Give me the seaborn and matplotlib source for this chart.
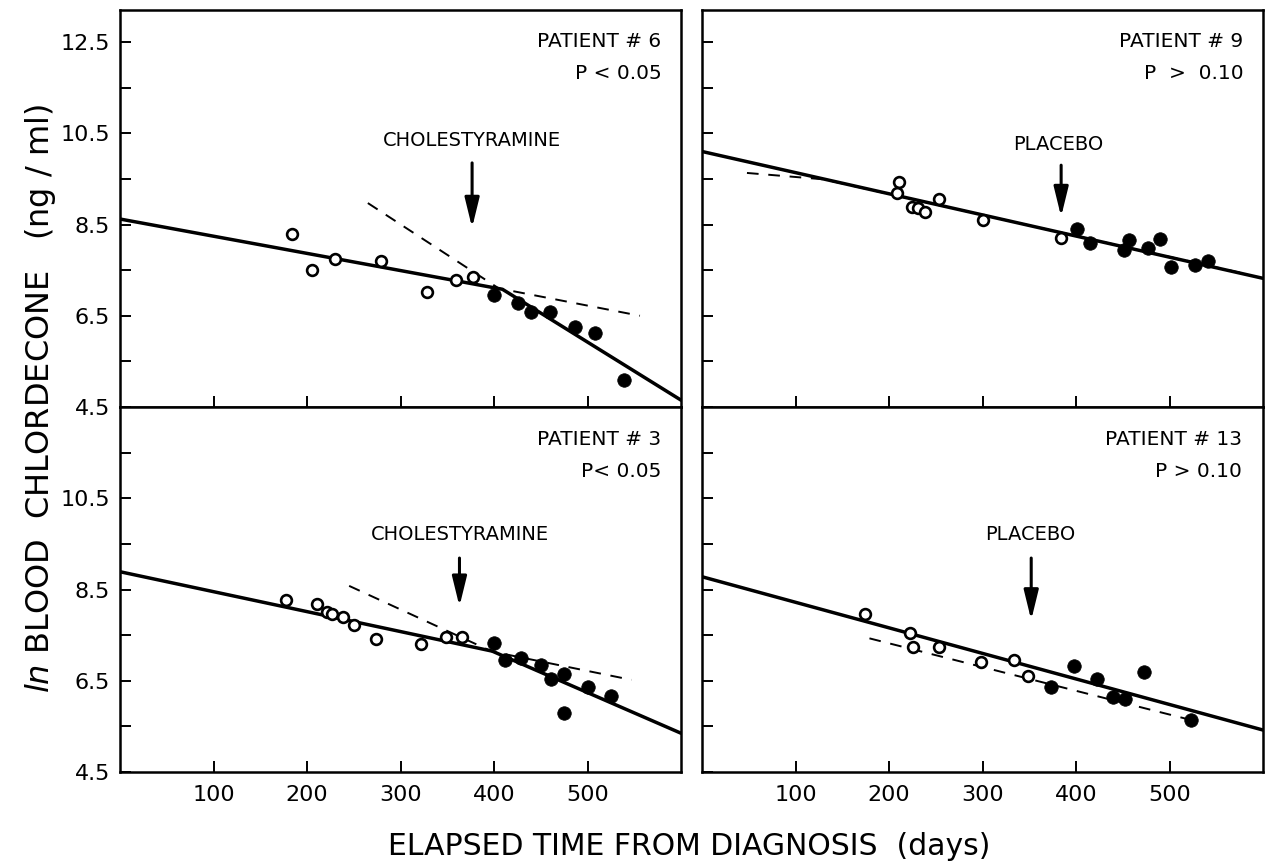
import matplotlib
matplotlib.use("Agg")
import matplotlib.pyplot as plt
import seaborn as sns

# patient 6 (cholestyramine)
p6_open_days = [184, 205, 230, 279, 328, 359, 377]
p6_open_level = [8.29, 7.50, 7.75, 7.69, 7.02, 7.28, 7.34]
p6_drug_days = [400, 426, 440, 460, 487, 508, 539]
p6_drug_level = [6.96, 6.77, 6.59, 6.58, 6.25, 6.13, 5.09]
p6_fit_days = [0, 409, 600]
p6_fit_level = [8.62, 7.08, 4.65]
p6_alt_days = [265, 405, 556]
p6_alt_level = [8.97, 7.10, 6.50]

# patient 9 (placebo)
p9_open_days = [211, 209, 224, 231, 238, 253, 300, 384]
p9_open_level = [9.44, 9.19, 8.88, 8.86, 8.78, 9.06, 8.60, 8.20]
p9_drug_days = [401, 415, 451, 457, 477, 490, 501, 527, 541]
p9_drug_level = [8.40, 8.09, 7.94, 8.16, 7.98, 8.18, 7.56, 7.61, 7.70]
p9_fit_days = [0, 600]
p9_fit_level = [10.10, 7.32]
p9_alt_days = [48, 130, 585]
p9_alt_level = [9.63, 9.49, 7.40]

# patient 3 (cholestyramine)
p3_open_days = [177, 211, 221, 227, 238, 250, 274, 322, 349, 366]
p3_open_level = [8.27, 8.18, 8.00, 7.96, 7.89, 7.72, 7.41, 7.30, 7.47, 7.45]
p3_drug_days = [400, 412, 429, 450, 461, 475, 475, 500, 525]
p3_drug_level = [7.32, 6.96, 7.01, 6.85, 6.53, 6.65, 5.80, 6.37, 6.17]
p3_fit_days = [0, 398, 600]
p3_fit_level = [8.89, 7.15, 5.35]
p3_alt_days = [245, 398, 547]
p3_alt_level = [8.58, 7.14, 6.52]

# patient 13 (placebo)
p13_open_days = [174, 222, 226, 253, 298, 334, 349]
p13_open_level = [7.96, 7.55, 7.23, 7.23, 6.92, 6.96, 6.61]
p13_drug_days = [373, 398, 422, 439, 452, 473, 523]
p13_drug_level = [6.36, 6.82, 6.55, 6.15, 6.09, 6.70, 5.63]
p13_fit_days = [0, 600]
p13_fit_level = [8.78, 5.42]
p13_alt_days = [179, 523]
p13_alt_level = [7.43, 5.64]

x_ticks = [100, 200, 300, 400, 500]
y_ticks = [4.5, 5.5, 6.5, 7.5, 8.5, 9.5, 10.5, 11.5, 12.5]

sns.set_theme(style="ticks")
plt.rcParams['font.family'] = ['DejaVu Sans']
plt.rcParams['mathtext.fontset'] = 'dejavusans'
plt.rcParams['text.color'] = 'black'

fig = plt.figure(figsize=(12.65, 8.66), dpi=100)

L, W = 0.0949, 0.4435
R = 0.555
top_rect_y, top_h = 0.530, 0.4584
bot_rect_y, bot_h = 0.1085, 0.4215

panels = [
    dict(rect=[L, top_rect_y, W, top_h], ylim=13.2, top=True, left=True,
         open=(p6_open_days, p6_open_level), drug=(p6_drug_days, p6_drug_level),
         fit=(p6_fit_days, p6_fit_level), alt=(p6_alt_days, p6_alt_level),
         name="PATIENT # 6", p="P < 0.05", tx=(0.965, 0.922, 0.841),
         drug_name="CHOLESTYRAMINE", label_xy=(376, 10.35), arrow=(376.5, 9.85, 8.43)),
    dict(rect=[R, top_rect_y, W, top_h], ylim=13.2, top=True, left=False,
         open=(p9_open_days, p9_open_level), drug=(p9_drug_days, p9_drug_level),
         fit=(p9_fit_days, p9_fit_level), alt=(p9_alt_days, p9_alt_level),
         name="PATIENT # 9", p="P  >  0.10", tx=(0.965, 0.922, 0.841),
         drug_name="PLACEBO", label_xy=(381, 10.25), arrow=(384, 9.8, 8.67)),
    dict(rect=[L, bot_rect_y, W, bot_h], ylim=12.5, top=False, left=True,
         open=(p3_open_days, p3_open_level), drug=(p3_drug_days, p3_drug_level),
         fit=(p3_fit_days, p3_fit_level), alt=(p3_alt_days, p3_alt_level),
         name="PATIENT # 3", p="P< 0.05", tx=(0.965, 0.91, 0.823),
         drug_name="CHOLESTYRAMINE", label_xy=(363, 9.70), arrow=(363, 9.19, 8.13)),
    dict(rect=[R, bot_rect_y, W, bot_h], ylim=12.5, top=False, left=False,
         open=(p13_open_days, p13_open_level), drug=(p13_drug_days, p13_drug_level),
         fit=(p13_fit_days, p13_fit_level), alt=(p13_alt_days, p13_alt_level),
         name="PATIENT # 13", p="P > 0.10", tx=(0.962, 0.91, 0.823),
         drug_name="PLACEBO", label_xy=(351, 9.71), arrow=(352, 9.19, 7.83)),
]

for pn in panels:
    ax = fig.add_axes(pn['rect'])

    sns.lineplot(x=pn['fit'][0], y=pn['fit'][1], ax=ax, color='black', lw=2.5,
                 estimator=None, sort=False, zorder=2)
    sns.lineplot(x=pn['alt'][0], y=pn['alt'][1], ax=ax, color='black', lw=1.4,
                 linestyle=(0, (6, 5)), estimator=None, sort=False, zorder=2)
    sns.scatterplot(x=pn['open'][0], y=pn['open'][1], ax=ax, marker='o', s=60,
                    facecolor='white', edgecolor='black', linewidth=1.9, zorder=3)
    sns.scatterplot(x=pn['drug'][0], y=pn['drug'][1], ax=ax, marker='o', s=95,
                    color='black', edgecolor='black', linewidth=0.5, zorder=3)

    ax.set_xlim(0, 600)
    ax.set_ylim(4.5, pn['ylim'])
    ax.set_xticks(x_ticks)
    ax.set_yticks(y_ticks)
    if pn['top']:
        ax.set_xticklabels([])
    else:
        ax.set_xticklabels([str(t) for t in x_ticks])
    if pn['left']:
        if pn['top']:
            ax.set_yticklabels(["4.5", "", "6.5", "", "8.5", "", "10.5", "", "12.5"])
        else:
            ax.set_yticklabels(["4.5", "", "6.5", "", "8.5", "", "10.5", "", ""])
    else:
        ax.set_yticklabels([])
    ax.set_xlabel("")
    ax.set_ylabel("")
    ax.tick_params(direction='in', length=8, width=1.4, labelsize=16,
                   colors='black', pad=7)
    ax.tick_params(axis='x', pad=9)
    for s in ax.spines.values():
        s.set_visible(True)
        s.set_linewidth(1.8)
        s.set_color('black')

    tx, ty1, ty2 = pn['tx']
    ax.text(tx, ty1, pn['name'], transform=ax.transAxes, ha='right', va='center',
            fontsize=14.5, color='black')
    ax.text(tx, ty2, pn['p'], transform=ax.transAxes, ha='right', va='center',
            fontsize=14.5, color='black')
    ax.text(pn['label_xy'][0], pn['label_xy'][1], pn['drug_name'], ha='center',
            va='center', fontsize=14, color='black')
    ax_x, a_top, a_tip = pn['arrow']
    ax.annotate("", xy=(ax_x, a_tip), xytext=(ax_x, a_top),
                arrowprops=dict(arrowstyle='-|>,head_length=0.9,head_width=0.22',
                                color='black', lw=2.2, mutation_scale=20,
                                shrinkA=0, shrinkB=0))

fig.text(0.032, 0.54, r"$\mathit{ln}$ BLOOD  CHLORDECONE   (ng / ml)", rotation=90,
         ha='center', va='center', fontsize=23, color='black')
fig.text(0.545, 0.022, "ELAPSED TIME FROM DIAGNOSIS  (days)", ha='center',
         va='center', fontsize=21.5, color='black')

fig.savefig("out.png", dpi=100, facecolor='white')
